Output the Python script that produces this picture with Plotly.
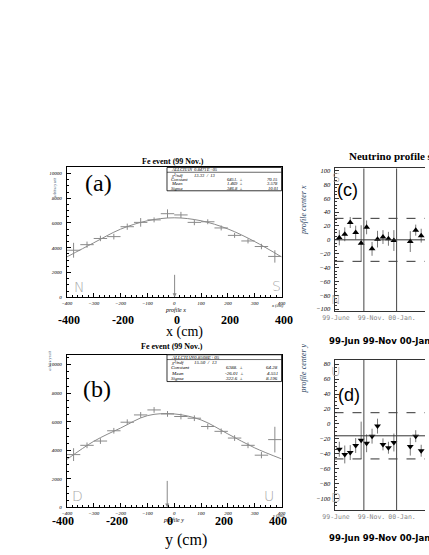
import plotly.graph_objects as go

# Fe event profiles, 50 cm bins
BIN_X = [-375, -325, -275, -225, -175, -125, -75, -25, 25, 75, 125, 175, 225, 275, 325, 375]
A_COUNTS = [3800, 4250, 4750, 4900, 5700, 6050, 6250, 6750, 6650, 6050, 6100, 5600, 5000, 4550, 4100, 3300]
A_ERR = [600, 250, 220, 230, 250, 350, 200, 350, 250, 230, 200, 200, 200, 200, 220, 500]
B_COUNTS = [3700, 4350, 4650, 5370, 5970, 6480, 6830, 6550, 6370, 6250, 5670, 5330, 4860, 4350, 3660, 4750]
B_ERR = [450, 200, 200, 200, 200, 200, 200, 200, 200, 200, 200, 200, 200, 200, 220, 900]

FIT_X = [-400, -300, -200, -100, 0, 100, 200, 300, 400]
A_FIT = [3260, 4400, 5500, 6180, 6420, 6180, 5520, 4500, 3260]
B_FIT = [3360, 4630, 5560, 6430, 6550, 6130, 5150, 4170, 3400]
A_MEAN = 1.469
B_MEAN = -26.01

A_STATS = [["ALLCHAN", "0.8471E+05", ""], ["\u03c7\u00b2/ndf", "13.33  /  13", ""],
           ["Constant", "6451.  \u00b1", "70.15"], ["Mean", "1.469  \u00b1", "3.578"],
           ["Sigma", "346.8  \u00b1", "10.01"]]
B_STATS = [["ALLCHAN", "0.8508E+05", ""], ["\u03c7\u00b2/ndf", "15.50  /  13", ""],
           ["Constant", "6388.  \u00b1", "64.28"], ["Mean", "-26.01  \u00b1", "4.551"],
           ["Sigma", "322.6  \u00b1", "8.196"]]
BIG_TICKS = [-400, -200, 0, 200, 400]

# neutrino profile centre per run
RUN_IDX = [0, 1, 2, 3, 4, 5, 6, 7, 8, 9, 10, 11, 14, 15, 16]
C_Y = [30, 3, 8, 25, 10.5, -5, 18, -13, 1, 4, 1.5, -1, -2.5, 14, 6]
C_ERR = [5, 11, 10, 8, 10, 26, 10, 10, 12, 10, 10, 15, 15, 8, 10]
D_Y = [-59, -34, -41, -38.5, -29, -22, -26, -16.5, -3, -27.5, -32, -25, -30.5, -16.5, -36]
D_ERR = [8, 10, 12, 10, 10, 25, 12, 10, 10, 8, 8, 12, 12, 8, 8]
C_MEAN, D_MEAN, BAND = 0, -16, 31
PERIOD_EDGES = [5.5, 11.5]
PERIOD_POS = [0.4, 6.9, 12.5]
PERIOD_TEXT = ["99-June", "99-Nov.", "00-Jan."]

W, H = 429, 555
SERIF = "Liberation Serif, Times New Roman, serif"


def px(x):
    return x / W


def py(y):
    return 1 - y / H


fig = go.Figure()

for xa, ya, fit, counts, err in [("x", "y", A_FIT, A_COUNTS, A_ERR), ("x2", "y2", B_FIT, B_COUNTS, B_ERR)]:
    fig.add_trace(go.Scatter(x=FIT_X, y=fit, mode="lines", xaxis=xa, yaxis=ya,
                             line=dict(color="#8a8a8a", width=1, shape="spline")))
    fig.add_trace(go.Scatter(x=BIN_X, y=counts, mode="markers", xaxis=xa, yaxis=ya,
                             marker=dict(size=1, color="rgba(0,0,0,0)"),
                             error_x=dict(type="constant", value=25, width=0, color="#8a8a8a", thickness=1),
                             error_y=dict(type="data", array=err, width=0, color="#8a8a8a", thickness=1)))

for xa, ya, vals, err, sym in [("x3", "y3", C_Y, C_ERR, "triangle-up"), ("x4", "y4", D_Y, D_ERR, "triangle-down")]:
    fig.add_trace(go.Scatter(x=RUN_IDX, y=vals, mode="markers", xaxis=xa, yaxis=ya, cliponaxis=False,
                             marker=dict(symbol=sym, size=6, color="black"),
                             error_y=dict(type="data", array=err, width=0, color="#777", thickness=1)))

small = dict(family=SERIF, size=5, color="black", style="italic")


def frame_axes(dom_x, dom_y, yrange, ydtick, anchor_x, anchor_y):
    xa = dict(domain=dom_x, range=[-400, 400], anchor=anchor_y, showline=True, linecolor="black",
              linewidth=1, mirror=True, ticks="inside", ticklen=4, tickcolor="black", tick0=-400,
              dtick=100, tickfont=small, showgrid=False, zeroline=False, ticklabelstandoff=1,
              tickformat="d", minor=dict(ticks="inside", ticklen=2, dtick=20, tickcolor="black"))
    ya = dict(domain=dom_y, range=yrange, anchor=anchor_x, showline=True, linecolor="black",
              linewidth=1, mirror=True, ticks="inside", ticklen=4, tickcolor="black", dtick=ydtick,
              tickfont=small, showgrid=False, zeroline=False, ticklabelstandoff=3, tickformat="d",
              minor=dict(ticks="inside", ticklen=2, dtick=500, tickcolor="black"))
    return xa, ya


xa1, ya1 = frame_axes([px(57), px(280)], [py(298), py(167)], [0, 10480], 2000, "x", "y")
xa2, ya2 = frame_axes([px(57), px(280)], [py(510), py(356)], [0, 10694], 2000, "x2", "y2")


def run_axes(dom_y, yrange, anchor_x, anchor_y):
    xa = dict(domain=[px(335), 1], range=[0.12, 16.7], anchor=anchor_y, showline=True,
              linecolor="#333", linewidth=1, mirror=True, ticks="", tickvals=PERIOD_POS,
              ticktext=PERIOD_TEXT, tickfont=dict(family="DejaVu Sans Mono", size=6.5, color="#888"),
              showgrid=False, zeroline=False, ticklabelstandoff=0)
    ya = dict(domain=dom_y, range=yrange, anchor=anchor_x, showline=True, linecolor="#333",
              linewidth=1, mirror=False, ticks="inside", ticklen=4, tickcolor="#333", dtick=20,
              tickfont=dict(family=SERIF, size=6.5, color="black", style="italic"),
              showgrid=False, zeroline=False, ticklabelstandoff=2,
              minor=dict(ticks="inside", ticklen=2, dtick=5, tickcolor="#333"))
    return xa, ya


xa3, ya3 = run_axes([py(312), py(168)], [-102.9, 102.9], "x3", "y3")
xa4, ya4 = run_axes([py(513), py(361)], [-116, 86], "x4", "y4")

shapes = []
for xa, ya, mean in [("x3", "y3", C_MEAN), ("x4", "y4", D_MEAN)]:
    shapes.append(dict(type="line", xref=xa + " domain", x0=0, x1=1, yref=ya, y0=mean, y1=mean,
                       line=dict(color="#333", width=1)))
    for off in (BAND, -BAND):
        shapes.append(dict(type="line", xref=xa + " domain", x0=0, x1=1, yref=ya, y0=mean + off,
                           y1=mean + off, line=dict(color="#333", width=1, dash="dash")))
    for edge in PERIOD_EDGES:
        shapes.append(dict(type="line", xref=xa, x0=edge, x1=edge, yref=ya + " domain", y0=0, y1=1,
                           line=dict(color="#444", width=1)))

ann = []


def text(x, y, s, size, family=SERIF, color="black", anchor="center", **kw):
    ann.append(dict(x=px(x), y=py(y), xref="paper", yref="paper", text=s, showarrow=False,
                    xanchor=anchor, yanchor="middle", font=dict(family=family, size=size, color=color, **kw)))


def stat_box(rows, top, bottom, line_y, row_ys, size):
    shapes.append(dict(type="rect", xref="paper", yref="paper", x0=px(161), x1=px(280), y0=py(bottom),
                       y1=py(top), line=dict(color="black", width=0.8), fillcolor="white"))
    shapes.append(dict(type="line", xref="paper", yref="paper", x0=px(161), x1=px(280), y0=py(line_y),
                       y1=py(line_y), line=dict(color="black", width=0.6)))
    for (label, val, err), yy in zip(rows, row_ys):
        text(163, yy, label, size, anchor="left", style="italic")
        if err:
            text(242, yy, val, size, anchor="right", style="italic")
            text(278, yy, err, size, anchor="right", style="italic")
        else:
            text(187, yy, val, size, anchor="left", style="italic")


stat_box(A_STATS, 167, 190.5, 171.8, [169.5, 174.6, 179, 183.3, 187.7], 4.6)
stat_box(B_STATS, 356, 383, 360.8, [358.3, 364, 369.2, 374.5, 379.8], 5)

# left panels
text(167, 161, "<b>Fe event (99 Nov.)</b>", 8)
text(166, 348, "<b>Fe event (99 Nov.)</b>", 8)
text(90, 183, "(a)", 24)
text(88, 391, "(b)", 24)
text(170, 311, "profile x", 6, style="italic")
text(168, 523, "profile y", 6, style="italic")
text(276, 306, "x (cm)", 4.5, style="italic")
text(277, 518, "y (cm)", 4.5, style="italic")
text(179, 333, "x (cm)", 14)
text(181, 543, "y (cm)", 16)
ann.append(dict(x=px(41), y=py(174), xref="paper", yref="paper", text="arbitrary unit", textangle=-90,
                showarrow=False, font=dict(family=SERIF, size=3.5, style="italic")))
ann.append(dict(x=px(35), y=py(362), xref="paper", yref="paper", text="arbitrary unit", textangle=-90,
                showarrow=False, font=dict(family=SERIF, size=3.5, style="italic")))
for v in BIG_TICKS:
    ann.append(dict(x=v, xref="x", y=py(321), yref="paper", text="<b>%d</b>" % v, showarrow=False,
                    xshift=2.5, font=dict(family=SERIF, size=12, color="black")))
    ann.append(dict(x=v, xref="x2", y=py(533), yref="paper", text="<b>%d</b>" % v, showarrow=False,
                    xshift=-4, font=dict(family=SERIF, size=12, color="black")))
for xa, ya, mean, h in [("x", "y", A_MEAN, 24), ("x2", "y2", B_MEAN, 28)]:
    ann.append(dict(x=mean, y=0, xref=xa, yref=ya, ax=0, ay=-h, text="", showarrow=True,
                    arrowhead=2, arrowsize=0.8, arrowwidth=1, arrowcolor="#888"))

hollow = dict(family="DejaVu Sans", color="#a8a8a8", weight=200)
text(70, 288, "N", 14, **hollow)
text(275, 287, "S", 14, **hollow)
text(68, 498, "D", 14, **hollow)
text(267, 498, "U", 14, **hollow)

# right panels
text(348, 155, "<b>Neutrino profile stability</b>", 11, anchor="left")
text(349, 190, "(c)", 18, family="Liberation Sans, Arial, sans-serif")
text(350, 397, "(d)", 18, family="Liberation Sans, Arial, sans-serif")
text(337, 177, "S", 13, **hollow)
text(337, 300, "N", 13, **hollow)
text(337, 373, "U", 13, **hollow)
text(337, 500, "D", 13, **hollow)
narrow = "Liberation Sans Narrow, DejaVu Sans Condensed, Arial Narrow, sans-serif"
text(327, 342, "<b>99-Jun 99-Nov 00-Jan</b>", 9.5, family=narrow, anchor="left")
text(327, 540, "<b>99-Jun 99-Nov 00-Jan</b>", 9.5, family=narrow, anchor="left")
ann.append(dict(x=px(309), y=py(210), xref="paper", yref="paper", text="profile center x", textangle=-90,
                showarrow=False, font=dict(family=SERIF, size=8, style="italic")))
ann.append(dict(x=px(309), y=py(397), xref="paper", yref="paper", text="profile center y", textangle=-90,
                showarrow=False, font=dict(family=SERIF, size=8, style="italic")))

fig.update_layout(
    width=W, height=H, margin=dict(l=0, r=0, t=0, b=0), showlegend=False,
    paper_bgcolor="white", plot_bgcolor="white",
    xaxis=xa1, yaxis=ya1, xaxis2=xa2, yaxis2=ya2, xaxis3=xa3, yaxis3=ya3, xaxis4=xa4, yaxis4=ya4,
    shapes=shapes, annotations=ann,
)

# the page body has a default 8px margin; drop it so the figure sits at the window corner
fig.write_html("out.html", config={"displayModeBar": False},
               post_script="document.body.style.margin = '0';")
